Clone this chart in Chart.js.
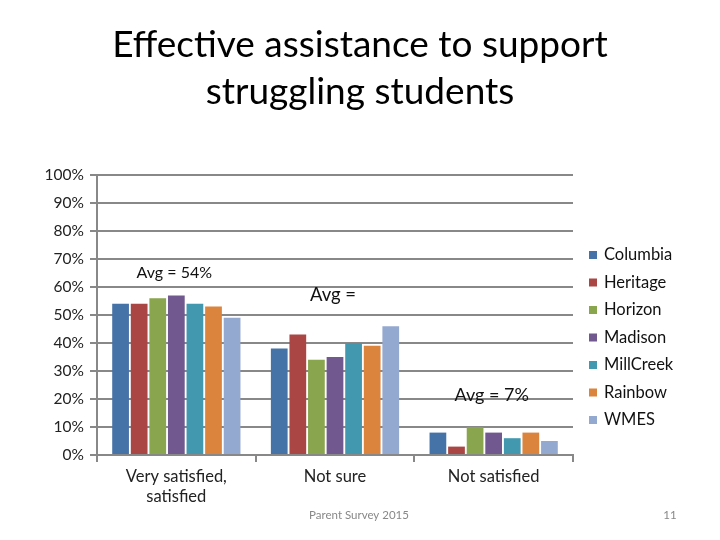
<!DOCTYPE html>
<html>
<head>
<meta charset="utf-8">
<script src="https://cdn.jsdelivr.net/npm/chart.js"></script>
<style>
  html, body { margin: 0; padding: 0; background: #fff; }
  #wrap { width: 720px; height: 540px; position: relative; }
</style>
</head>
<body>
<div id="wrap"><canvas id="surveyChart" width="720" height="540"></canvas></div>
<script>
// categories and series
let categories = [["Very satisfied,", "satisfied"], "Not sure", "Not satisfied"];
let schools = ["Columbia", "Heritage", "Horizon", "Madison", "MillCreek", "Rainbow", "WMES"];
let columbia = [54, 38, 8];
let heritage = [54, 43, 3];
let horizon = [56, 34, 10];
let madison = [57, 35, 8];
let millcreek = [54, 40, 6];
let rainbow = [53, 39, 8];
let wmes = [49, 46, 5];
let yTicks = [0, 10, 20, 30, 40, 50, 60, 70, 80, 90, 100];

// the "Avg =" notes, one per category, and the level (in %) they sit at
let avgLabels = ["Avg = 54%", "Avg =", "Avg = 7%"];
let avgLevels = [65, 57, 21.5];

let titleLines = ["Effective assistance to support", "struggling students"];
let footerText = "Parent Survey 2015";
let pageNumber = "11";

let colors = ["#4572A7", "#AA4643", "#89A54E", "#71588F", "#4198AF", "#DB843D", "#93A9CF"];
let fontName = "Lato, 'Open Sans', sans-serif";

let seriesValues = [columbia, heritage, horizon, madison, millcreek, rainbow, wmes];

let datasets = [];
for (let i = 0; i < schools.length; i++) {
  datasets.push({
    label: schools[i],
    data: seriesValues[i],
    backgroundColor: colors[i],
    borderWidth: 0,
    barPercentage: 0.9,
    categoryPercentage: 0.82
  });
}

// title, legend, notes and footer
let extrasPlugin = {
  id: "extras",
  afterDraw(chart) {
    let ctx = chart.ctx;
    let xs = chart.scales.x;
    let ys = chart.scales.y;
    ctx.save();

    // title
    ctx.fillStyle = "#000";
    ctx.textAlign = "center";
    ctx.textBaseline = "middle";
    ctx.font = "37px " + fontName;
    ctx.fillText(titleLines[0], 360, 45);
    ctx.fillText(titleLines[1], 360, 92);

    // avg notes
    ctx.fillStyle = "#111";
    let noteSizes = [16, 18.5, 18];
    for (let i = 0; i < avgLabels.length; i++) {
      ctx.font = noteSizes[i] + "px " + fontName;
      ctx.fillText(avgLabels[i], xs.getPixelForValue(i) - 2, ys.getPixelForValue(avgLevels[i]));
    }

    // legend
    ctx.textAlign = "left";
    ctx.font = "16.5px " + fontName;
    for (let i = 0; i < chart.data.datasets.length; i++) {
      let ds = chart.data.datasets[i];
      let y = 255 + i * 27.5;
      ctx.fillStyle = ds.backgroundColor;
      ctx.fillRect(589, y - 4, 8, 8);
      ctx.fillStyle = "#111";
      ctx.fillText(ds.label, 604, y);
    }

    // footer
    ctx.fillStyle = "#888";
    ctx.textAlign = "center";
    ctx.font = "11.5px " + fontName;
    ctx.fillText(footerText, 359, 515);
    ctx.fillText(pageNumber, 670, 515);
    ctx.restore();
  }
};

let ctx = document.getElementById("surveyChart").getContext("2d");
new Chart(ctx, {
  type: "bar",
  data: {
    labels: categories,
    datasets: datasets
  },
  options: {
    responsive: false,
    animation: false,
    layout: {
      padding: { top: 175, right: 147, left: 0, bottom: 0 }
    },
    plugins: {
      legend: { display: false },
      title: { display: false },
      tooltip: { enabled: false }
    },
    scales: {
      x: {
        afterFit(scale) { scale.height = 85; },
        grid: {
          drawOnChartArea: false,
          drawTicks: true,
          tickLength: 7,
          color: "#888",
          lineWidth: 2,
          offset: true
        },
        border: { display: true, color: "#888", width: 2 },
        ticks: {
          color: "#222",
          padding: 5,
          font: { family: fontName, size: 16.5 }
        }
      },
      y: {
        min: 0,
        max: 100,
        afterFit(scale) { scale.width = 97; },
        afterBuildTicks(scale) {
          scale.ticks = yTicks.map(v => ({ value: v }));
        },
        grid: {
          color: "#888",
          lineWidth: 2,
          tickLength: 7
        },
        border: { display: true, color: "#888", width: 2 },
        ticks: {
          color: "#222",
          padding: 6,
          font: { family: fontName, size: 15.5 },
          callback: v => v + "%"
        }
      }
    }
  },
  plugins: [extrasPlugin]
});
</script>
</body>
</html>
